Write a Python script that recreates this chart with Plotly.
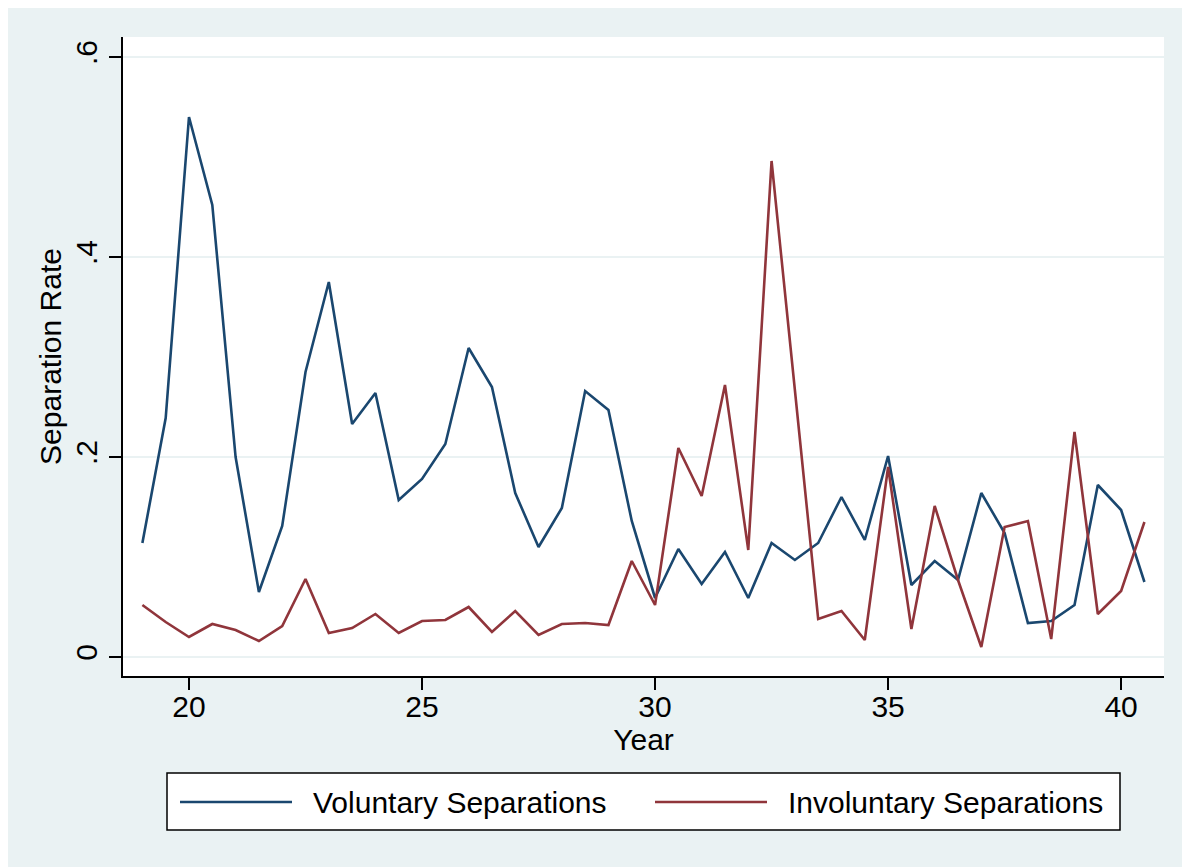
import plotly.graph_objects as go

years = [19, 19.5, 20, 20.5, 21, 21.5, 22, 22.5, 23, 23.5, 24, 24.5, 25, 25.5,
         26, 26.5, 27, 27.5, 28, 28.5, 29, 29.5, 30, 30.5, 31, 31.5, 32, 32.5,
         33, 33.5, 34, 34.5, 35, 35.5, 36, 36.5, 37, 37.5, 38, 38.5, 39, 39.5,
         40, 40.5]

voluntary = [0.114, 0.239, 0.540, 0.452, 0.200, 0.065, 0.131, 0.285, 0.375, 0.233,
             0.264, 0.157, 0.178, 0.213, 0.309, 0.270, 0.164, 0.110, 0.149, 0.266,
             0.247, 0.136, 0.059, 0.108, 0.073, 0.105, 0.059, 0.114, 0.097, 0.114,
             0.160, 0.117, 0.201, 0.072, 0.096, 0.077, 0.164, 0.124, 0.034, 0.036,
             0.052, 0.172, 0.147, 0.075]

involuntary = [0.052, 0.035, 0.020, 0.033, 0.027, 0.016, 0.031, 0.078, 0.024, 0.029,
               0.043, 0.024, 0.036, 0.037, 0.050, 0.025, 0.046, 0.022, 0.033, 0.034,
               0.032, 0.096, 0.052, 0.209, 0.161, 0.272, 0.107, 0.496, 0.267, 0.038,
               0.046, 0.017, 0.190, 0.028, 0.151, 0.077, 0.010, 0.130, 0.136, 0.018,
               0.225, 0.043, 0.066, 0.135]

series_names = ["Voluntary Separations", "Involuntary Separations"]
series_colors = ["#1A476F", "#90353B"]

x_ticks = [20, 25, 30, 35, 40]
x_tick_labels = ["20", "25", "30", "35", "40"]
y_ticks = [0, 0.2, 0.4, 0.6]
y_tick_labels = ["0", ".2", ".4", ".6"]

BG = "#EAF2F3"
FONT = "Liberation Sans, Arial, sans-serif"
FS = 30

OFF = 8  # page body margin offset
W, H = 1190, 867
# plot area in screen pixels: left 123, right 1164, top 37, bottom 676
L = 123 - OFF
T = 37 - OFF
R = W - (1164 - OFF)
B = H - (676 - OFF)
PW, PH = W - L - R, H - T - B


def px_x(p):
    return (p - OFF - L) / PW


def px_y(p):
    return (H - B - (p - OFF)) / PH


fig = go.Figure()
for name, vals, col in zip(series_names, [voluntary, involuntary], series_colors):
    fig.add_trace(go.Scatter(x=years, y=vals, mode="lines", name=name,
                             line=dict(color=col, width=2.6), showlegend=False))

shapes = [
    dict(type="rect", xref="paper", yref="paper", x0=px_x(167), x1=px_x(1120), y0=px_y(830), y1=px_y(773),
         fillcolor="white", line=dict(color="black", width=1.5)),
]
legend_line_px = [(180, 292), (655, 767)]
legend_text_px = [311, 786]
annotations = []
for (a, b), tx, name, col in zip(legend_line_px, legend_text_px, series_names, series_colors):
    shapes.append(dict(type="line", xref="paper", yref="paper", x0=px_x(a), x1=px_x(b),
                       y0=px_y(802), y1=px_y(802), line=dict(color=col, width=2.6)))
    annotations.append(dict(xref="paper", yref="paper", x=px_x(tx), y=px_y(802), text=name,
                            showarrow=False, xanchor="left", yanchor="middle",
                            font=dict(family=FONT, size=FS, color="black")))

fig.update_layout(
    width=W, height=H,
    margin=dict(l=L, r=R, t=T, b=B, pad=0),
    paper_bgcolor=BG, plot_bgcolor="white",
    font=dict(family=FONT, size=FS, color="black"),
    shapes=shapes, annotations=annotations,
    showlegend=False,
)
fig.update_xaxes(
    range=[18.584, 40.92], tickvals=x_ticks, ticktext=x_tick_labels,
    showgrid=False, zeroline=False, showline=True, linecolor="black", linewidth=2,
    ticks="outside", ticklen=12, tickwidth=1.5, tickcolor="black",
    ticklabelstandoff=-9,
    title=dict(text="Year", standoff=0, font=dict(size=FS)),
    tickfont=dict(size=FS),
)
fig.update_yaxes(
    range=[-0.019, 0.62], tickvals=y_ticks, ticktext=y_tick_labels, tickangle=-90,
    showgrid=True, gridcolor=BG, gridwidth=2, zeroline=False,
    showline=True, linecolor="black", linewidth=2,
    ticks="outside", ticklen=12, tickwidth=1.5, tickcolor="black",
    ticklabelstandoff=0,
    title=dict(text="Separation Rate", standoff=0, font=dict(size=FS)),
    tickfont=dict(size=FS),
)

fig.write_html("out.html")
